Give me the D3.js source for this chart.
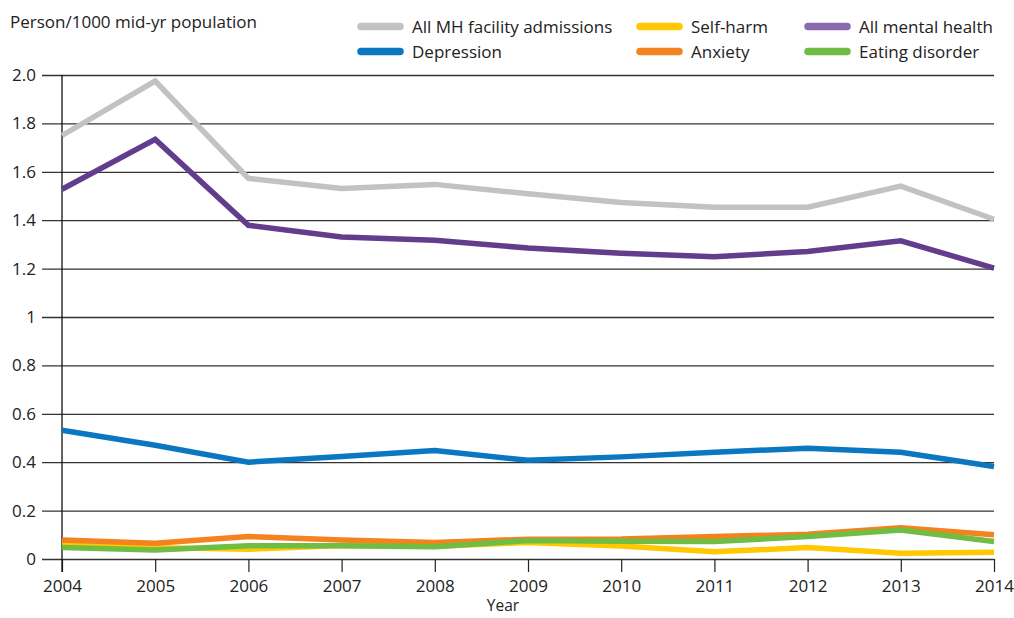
<!DOCTYPE html>
<html><head><meta charset="utf-8">
<script src="https://cdn.jsdelivr.net/npm/d3@7"></script>
<style>body{margin:0;background:#fff}svg{display:block}text{font-family:"Open Sans",sans-serif;fill:#222}</style>
</head><body><svg id="c" width="1014" height="618"></svg>
<script>
const years = [2004,2005,2006,2007,2008,2009,2010,2011,2012,2013,2014];
const allMHFacility = [1.75,1.975,1.573,1.531,1.548,1.509,1.473,1.454,1.454,1.541,1.404];
const allMentalHealth = [1.528,1.734,1.379,1.331,1.317,1.285,1.263,1.249,1.271,1.315,1.202];
const depression = [0.532,0.470,0.400,0.424,0.448,0.408,0.422,0.441,0.458,0.441,0.382];
const selfHarm = [0.061,0.047,0.040,0.056,0.053,0.068,0.054,0.030,0.047,0.024,0.028];
const anxiety = [0.079,0.065,0.093,0.079,0.068,0.082,0.083,0.093,0.102,0.129,0.100];
const eatingDisorder = [0.048,0.037,0.055,0.055,0.051,0.076,0.073,0.072,0.093,0.120,0.072];
const yTicks = [0,0.2,0.4,0.6,0.8,1,1.2,1.4,1.6,1.8,2.0];
const yTickLabels = ["0","0.2","0.4","0.6","0.8","1","1.2","1.4","1.6","1.8","2.0"];

const series = [
  {name:"All MH facility admissions", values:allMHFacility, color:"#c2c2c2", legend:"#c2c2c2", col:0,row:0},
  {name:"All mental health", values:allMentalHealth, color:"#633d8d", legend:"#8a6bb0", col:2,row:0},
  {name:"Depression", values:depression, color:"#0a77c0", legend:"#0a77c0", col:0,row:1},
  {name:"Self-harm", values:selfHarm, color:"#ffc800", legend:"#ffc800", col:1,row:0},
  {name:"Anxiety", values:anxiety, color:"#f4821f", legend:"#f4821f", col:1,row:1},
  {name:"Eating disorder", values:eatingDisorder, color:"#70bd44", legend:"#70bd44", col:2,row:1}
];

const svg = d3.select("#c");
const x = d3.scaleLinear().domain([2004,2014]).range([62,994]);
const y = d3.scaleLinear().domain([0,2]).range([559,75]);

// gridlines + y axis ticks
const yAxis = d3.axisLeft(y).tickValues(yTicks).tickFormat((d,i)=>yTickLabels[i]).tickSize(20).tickPadding(6);
const gy = svg.append("g").attr("transform","translate(62,0)").call(yAxis);
gy.select(".domain").remove();
gy.selectAll(".tick line").attr("stroke","#333").attr("stroke-width",1.3).attr("x2",-20).attr("x1",932);
gy.selectAll(".tick text").attr("font-size",17).attr("fill","#222");

// x axis
const xAxis = d3.axisBottom(x).tickValues(years).tickFormat(d3.format("d")).tickSize(13).tickPadding(8);
const gx = svg.append("g").attr("transform","translate(0,559)").call(xAxis);
gx.select(".domain").remove();
gx.selectAll(".tick line").attr("stroke","#222").attr("stroke-width",1.2);
gx.selectAll(".tick text").attr("font-size",17).attr("fill","#222");

// y axis line
svg.append("line").attr("x1",62).attr("x2",62).attr("y1",y(2)).attr("y2",572).attr("stroke","#111").attr("stroke-width",1.3);

// lines
const line = d3.line().x((d,i)=>x(years[i])).y(d=>y(d));
const order = ["All MH facility admissions","All mental health","Depression","Self-harm","Anxiety","Eating disorder"];
order.forEach(n=>{
  const s = series.find(t=>t.name===n);
  svg.append("path").datum(s.values).attr("d",line).attr("fill","none")
    .attr("stroke",s.color).attr("stroke-width",5.5).attr("stroke-linejoin","miter");
});

// titles
svg.append("text").attr("x",10).attr("y",28).attr("font-size",17).text("Person/1000 mid-yr population");
svg.append("text").attr("x",503).attr("y",611).attr("text-anchor","middle").attr("font-size",15.5).text("Year");

// legend
const colX = [357,636,804];
const rowY = [26.5,51.5];
series.forEach(s=>{
  const g = svg.append("g").attr("transform",`translate(${colX[s.col]},${rowY[s.row]})`);
  g.append("line").attr("x1",4).attr("x2",43).attr("y1",0).attr("y2",0).attr("stroke",s.legend).attr("stroke-width",7.5).attr("stroke-linecap","round");
  g.append("text").attr("x",55).attr("y",6).attr("font-size",17).text(s.name);
});
</script></body></html>
